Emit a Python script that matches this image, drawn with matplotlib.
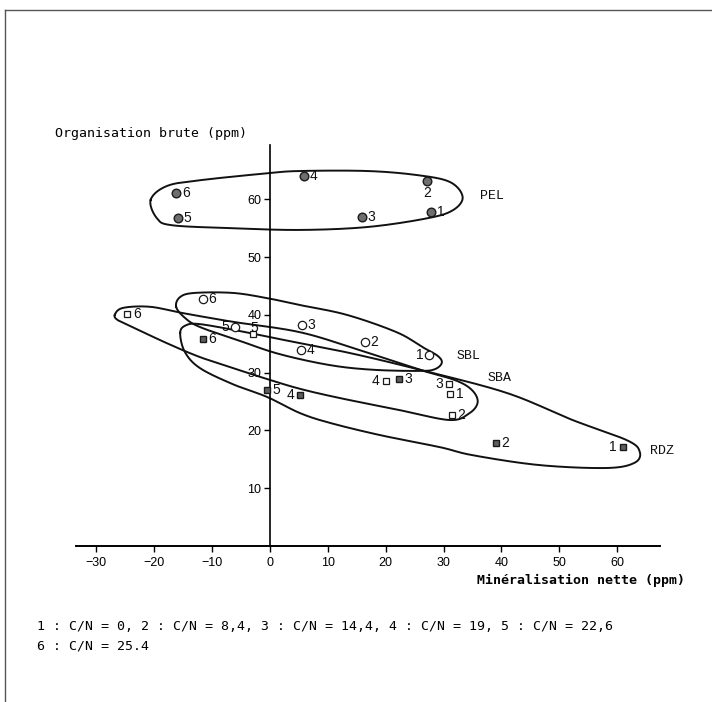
import numpy as np
import matplotlib.pyplot as plt
from matplotlib.lines import Line2D

# points : mineralisation nette (x), organisation brute (y), label = C/N class
pel_x = [27.8, 27.1, 15.9, 5.9, -15.9, -16.2]
pel_y = [57.8, 63.1, 56.9, 64.0, 56.7, 61.1]
pel_lab = ["1", "2", "3", "4", "5", "6"]

sbl_x = [27.5, 16.4, 5.5, 5.4, -6.0, -11.6]
sbl_y = [33.0, 35.3, 38.2, 33.9, 37.9, 42.7]
sbl_lab = ["1", "2", "3", "4", "5", "6"]

sba_x = [31.1, 31.4, 30.9, 20.0, -2.9, -24.7]
sba_y = [26.3, 22.7, 28.0, 28.5, 36.7, 40.1]
sba_lab = ["1", "2", "3", "4", "5", "6"]

rdz_x = [61.0, 39.0, 22.3, 5.2, -0.5, -11.6]
rdz_y = [17.1, 17.8, 28.9, 26.1, 27.0, 35.8]
rdz_lab = ["1", "2", "3", "4", "5", "6"]

# hand drawn envelopes (outline)
pel_env_x = [-20.6, -19.5, -16.8, -6.4, 5.2, 16.8, 27.1, 31.6, 33.3, 31.1, 25.4, 16.8, 5.2, -0.5, -12.1, -17.8]
pel_env_y = [59.9, 56.7, 55.5, 55.0, 54.7, 55.2, 56.7, 58.1, 60.4, 63.0, 64.2, 64.9, 64.9, 64.5, 63.3, 62.3]

sbl_env_x = [-16.2, -15.5, -13.0, -6.4, -0.5, 5.2, 13.3, 21.9, 26.4, 29.0, 29.7, 28.5, 25.9, 17.8, 10.4, 1.7, -5.2, -12.1, -14.7]
sbl_env_y = [41.4, 43.1, 43.8, 43.8, 42.9, 41.7, 40.0, 37.0, 34.4, 32.9, 31.7, 30.6, 30.3, 30.5, 31.3, 33.2, 35.5, 37.9, 39.5]

sba_env_x = [-26.8, -25.4, -20.7, -15.0, -6.4, 5.2, 15.5, 25.9, 32.0, 34.9, 35.9, 34.5, 31.1, 22.5, 12.1, 5.2, -0.5, -6.4, -12.1, -17.8, -24.2, -26.3]
sba_env_y = [40.0, 41.2, 41.4, 40.3, 38.8, 37.0, 33.9, 30.5, 28.7, 27.0, 24.9, 23.0, 21.8, 23.5, 25.6, 27.2, 28.9, 30.8, 32.7, 35.1, 38.1, 39.1]

rdz_env_x = [-15.5, -14.5, -12.1, -5.2, 1.7, 13.8, 25.9, 40.9, 52.3, 61.7, 63.9, 63.0, 58.2, 46.6, 35.1, 29.4, 19.0, 10.4, 5.2, -0.5, -6.4, -12.1, -14.7]
rdz_env_y = [36.9, 38.2, 38.4, 37.2, 35.8, 33.4, 30.5, 26.5, 21.8, 18.3, 16.3, 14.4, 13.5, 14.0, 15.7, 17.1, 19.2, 21.3, 23.0, 25.8, 28.0, 30.8, 33.6]

group_names = ["PEL", "SBL", "SBA", "RDZ"]
group_name_x = [36.3, 32.3, 37.6, 65.6]
group_name_y = [60.6, 32.9, 29.1, 16.4]

x_ticks = [-30, -20, -10, 0, 10, 20, 30, 40, 50, 60]
y_ticks = [10, 20, 30, 40, 50, 60]

caption1 = "1 : C/N = 0, 2 : C/N = 8,4, 3 : C/N = 14,4, 4 : C/N = 19, 5 : C/N = 22,6"
caption2 = "6 : C/N = 25.4"


def closed_spline(xs, ys, n=24):
    # catmull-rom, closed
    P = np.column_stack([xs, ys])
    m = len(P)
    t = np.linspace(0, 1, n, endpoint=False)[:, None]
    segs = []
    for i in range(m):
        p0, p1, p2, p3 = P[i - 1], P[i], P[(i + 1) % m], P[(i + 2) % m]
        segs.append(0.5 * (2 * p1 + (-p0 + p2) * t
                           + (2 * p0 - 5 * p1 + 4 * p2 - p3) * t ** 2
                           + (-p0 + 3 * p1 - 3 * p2 + p3) * t ** 3))
    out = np.vstack(segs)
    out = np.vstack([out, out[:1]])
    return out[:, 0], out[:, 1]


mono = "DejaVu Sans Mono"
fig = plt.figure(figsize=(7.12, 7.02), dpi=100)
ax = fig.add_axes([76 / 712, 1 - 546 / 702, 584 / 712, 401 / 702])
ax.set_xlim(-33.5, 67.4)
ax.set_ylim(0, 69.4)

for ex, ey in [(pel_env_x, pel_env_y), (sbl_env_x, sbl_env_y),
               (sba_env_x, sba_env_y), (rdz_env_x, rdz_env_y)]:
    sx, sy = closed_spline(ex, ey)
    ax.plot(sx, sy, color="#111111", lw=1.4, zorder=2)

ax.plot(pel_x, pel_y, "o", ms=6.2, mfc="#6e6e6e", mec="#1a1a1a", mew=1.0, ls="none", zorder=3)
ax.plot(sbl_x, sbl_y, "o", ms=6, mfc="white", mec="#1a1a1a", mew=0.9, ls="none", zorder=3)
ax.plot(sba_x, sba_y, "s", ms=5, mfc="white", mec="#1a1a1a", mew=0.9, ls="none", zorder=3)
ax.plot(rdz_x, rdz_y, "s", ms=5, mfc="#5e5e5e", mec="#1a1a1a", mew=1.0, ls="none", zorder=3)

# label side for each point: r=right, l=left, t=top, b=below
pel_side = ["r", "b", "r", "r", "r", "r"]
sbl_side = ["l", "r", "r", "r", "l", "r"]
sba_side = ["r", "r", "l", "l", "t", "r"]
rdz_side = ["l", "r", "r", "l", "r", "r"]
offs = {"r": ((4.2, 0), "left", "center"), "l": ((-4.2, 0), "right", "center"),
        "t": ((1.0, 4.2), "center", "center"), "b": ((0, -8.5), "center", "center")}
for xs, ys, labs, sides in [(pel_x, pel_y, pel_lab, pel_side), (sbl_x, sbl_y, sbl_lab, sbl_side),
                            (sba_x, sba_y, sba_lab, sba_side), (rdz_x, rdz_y, rdz_lab, rdz_side)]:
    for x, y, lab, s in zip(xs, ys, labs, sides):
        off, ha, va = offs[s]
        ax.annotate(lab, (x, y), xytext=off, textcoords="offset points", ha=ha, va=va,
                    fontsize=10, family="Liberation Sans", color="#111111", zorder=4)

for name, x, y in zip(group_names, group_name_x, group_name_y):
    ax.text(x, y, name, fontsize=9.5, family="Liberation Mono", ha="left", va="center",
            color="#111111", clip_on=False)

ax.spines["left"].set_position(("data", 0))
ax.spines["top"].set_visible(False)
ax.spines["right"].set_visible(False)
ax.spines["left"].set_linewidth(1.2)
ax.spines["bottom"].set_linewidth(1.4)
ax.set_xticks(x_ticks)
ax.set_yticks(y_ticks)
ax.set_xticklabels([("\u2212" + str(-v)) if v < 0 else str(v) for v in x_ticks])
ax.tick_params(axis="both", direction="out", length=4, width=1.0, labelsize=9, pad=2)
ax.tick_params(axis="x", pad=4)
for lbl in ax.get_xticklabels() + ax.get_yticklabels():
    lbl.set_family("Liberation Sans")

fig.text(55 / 712, 1 - 133 / 702, "Organisation brute (ppm)", family=mono, fontsize=9.5,
         ha="left", va="center")
fig.text(685 / 712, 1 - 580 / 702, "Minéralisation nette (ppm)", family=mono, fontsize=9.5,
         weight="bold", ha="right", va="center")
fig.text(37 / 712, 1 - 626 / 702, caption1, family=mono, fontsize=9.5, ha="left", va="center")
fig.text(37 / 712, 1 - 646 / 702, caption2, family=mono, fontsize=9.5, ha="left", va="center")

# page frame
fig.add_artist(Line2D([5 / 712, 1], [1 - 10 / 702, 1 - 10 / 702], color="#555555", lw=1.0))
fig.add_artist(Line2D([5 / 712, 5 / 712], [0, 1 - 10 / 702], color="#555555", lw=1.0))

fig.savefig("out.png", dpi=100)
